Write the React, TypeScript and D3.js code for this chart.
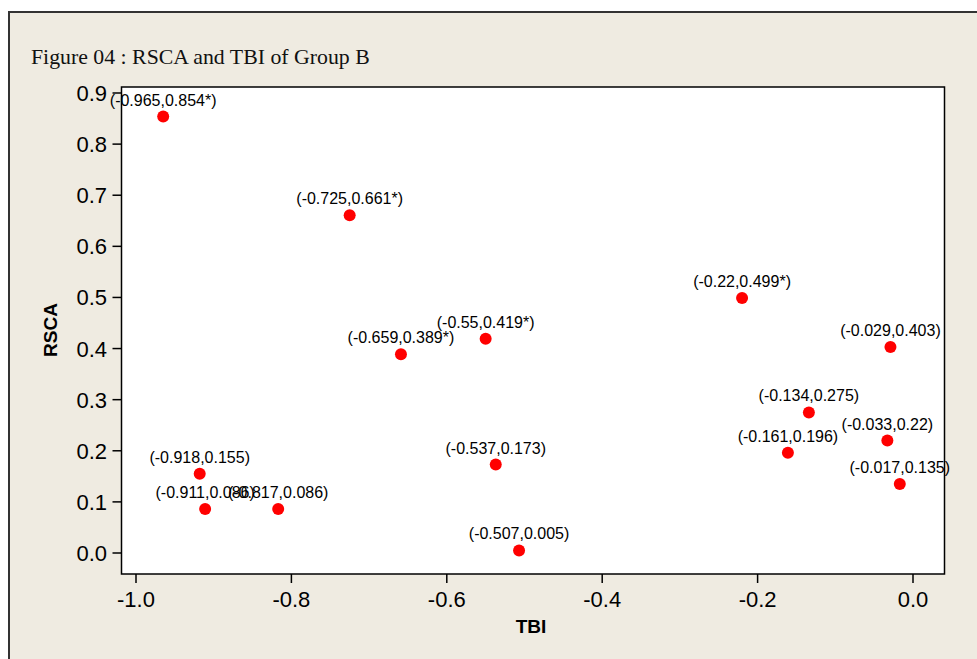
import * as d3 from "d3";

const tbi = [-0.965, -0.725, -0.659, -0.55, -0.22, -0.029, -0.134, -0.033, -0.161, -0.017, -0.918, -0.911, -0.817, -0.537, -0.507];
const rsca = [0.854, 0.661, 0.389, 0.419, 0.499, 0.403, 0.275, 0.22, 0.196, 0.135, 0.155, 0.086, 0.086, 0.173, 0.005];
const labels = [
  "(-0.965,0.854*)",
  "(-0.725,0.661*)",
  "(-0.659,0.389*)",
  "(-0.55,0.419*)",
  "(-0.22,0.499*)",
  "(-0.029,0.403)",
  "(-0.134,0.275)",
  "(-0.033,0.22)",
  "(-0.161,0.196)",
  "(-0.017,0.135)",
  "(-0.918,0.155)",
  "(-0.911,0.086)",
  "(-0.817,0.086)",
  "(-0.537,0.173)",
  "(-0.507,0.005)",
];
const xTicks = [-1.0, -0.8, -0.6, -0.4, -0.2, 0.0];
const yTicks = [0.0, 0.1, 0.2, 0.3, 0.4, 0.5, 0.6, 0.7, 0.8, 0.9];

const W = 977;
const H = 659;
const plot = { left: 121.5, right: 944.5, top: 87, bottom: 574 };

export default function App() {
  // -1.0 sits at x=136, 0.0 at x=913; 0.0 at y=553, 0.9 at y=93
  const x = d3.scaleLinear().domain([-1, 0]).range([136, 913]);
  const y = d3.scaleLinear().domain([0, 0.9]).range([553, 93]);
  const sans = "'Liberation Sans', Arial, sans-serif";

  return (
    <svg
      width={W}
      height={H}
      style={{ position: "absolute", left: 0, top: 0, display: "block" }}
    >
      <rect x={0} y={0} width={W} height={H} fill="#fff" />
      <rect x={9} y={12} width={990} height={670} fill="#EFEBE1" stroke="#333" strokeWidth={2} />
      <text x={31} y={64} fontFamily="'Liberation Serif', 'Times New Roman', serif" fontSize={21.8} fill="#111">
        Figure 04 : RSCA and TBI of Group B
      </text>

      <rect
        x={plot.left}
        y={plot.top}
        width={plot.right - plot.left}
        height={plot.bottom - plot.top}
        fill="#fff"
        stroke="#000"
        strokeWidth={1.5}
      />

      {xTicks.map((t) => (
        <g key={"x" + t}>
          <line x1={x(t)} x2={x(t)} y1={plot.bottom} y2={plot.bottom + 9} stroke="#000" strokeWidth={1.5} />
          <text x={x(t)} y={607} textAnchor="middle" fontFamily={sans} fontSize={22} fill="#000">
            {d3.format(".1f")(t).replace("−", "-")}
          </text>
        </g>
      ))}
      {yTicks.map((t) => (
        <g key={"y" + t}>
          <line x1={plot.left - 9} x2={plot.left} y1={y(t)} y2={y(t)} stroke="#000" strokeWidth={1.5} />
          <text x={107} y={y(t) + 8} textAnchor="end" fontFamily={sans} fontSize={22} fill="#000">
            {d3.format(".1f")(t)}
          </text>
        </g>
      ))}

      <text x={531} y={633} textAnchor="middle" fontFamily={sans} fontSize={19} fontWeight="bold" fill="#000">
        TBI
      </text>
      <text
        transform={`translate(57,330) rotate(-90)`}
        textAnchor="middle"
        fontFamily={sans}
        fontSize={19}
        fontWeight="bold"
        fill="#000"
      >
        RSCA
      </text>

      {tbi.map((v, i) => (
        <g key={"p" + i}>
          <circle cx={x(v)} cy={y(rsca[i])} r={6} fill="#FF0000" />
          <text
            x={x(v)}
            y={y(rsca[i]) - 11}
            textAnchor="middle"
            fontFamily={sans}
            fontSize={16}
            fill="#000"
          >
            {labels[i]}
          </text>
        </g>
      ))}
    </svg>
  );
}
